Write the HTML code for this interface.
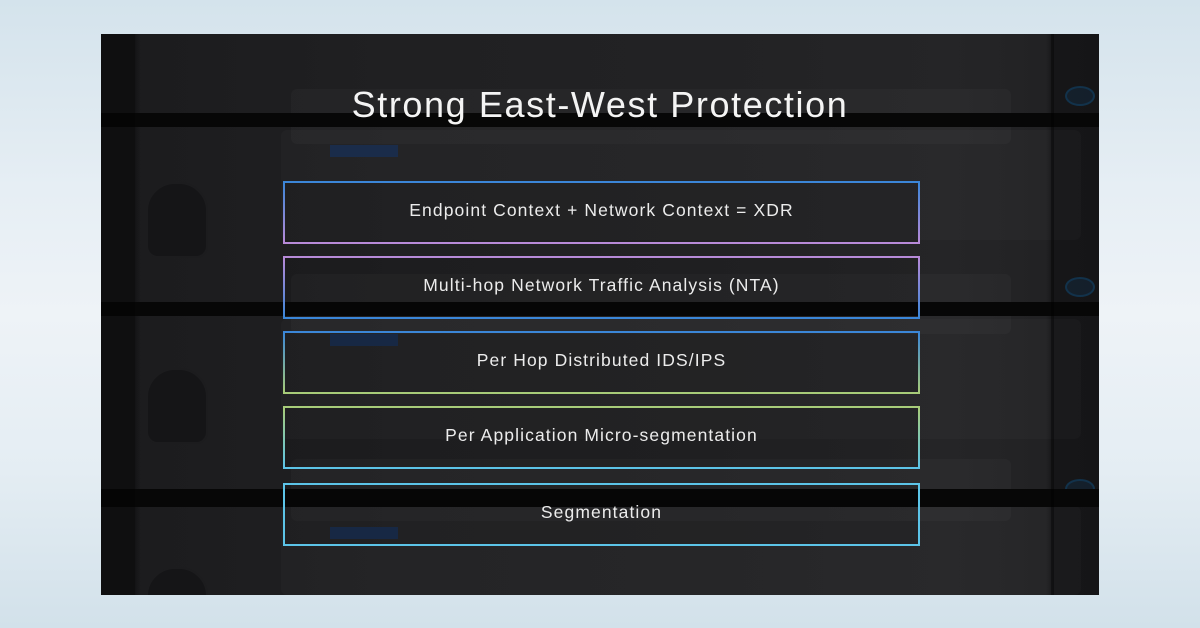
<!DOCTYPE html>
<html>
<head>
<meta charset="utf-8">
<style>
  html,body{margin:0;padding:0;}
  body{width:1200px;height:628px;overflow:hidden;position:relative;
    background:linear-gradient(to bottom,#d4e3ec 0%,#e6eef4 30%,#eef3f7 50%,#e4edf3 75%,#d2e1ea 100%);
    font-family:"Liberation Sans",sans-serif;}
  .panel{position:absolute;left:101px;top:34px;width:998px;height:561px;overflow:hidden;
    background:linear-gradient(to right,#141416 0px,#141416 34px,#1c1c1e 40px,#202022 300px,#222224 600px,#252527 850px,#222224 945px,#161618 952px,#151517 998px);}
  .band{position:absolute;left:0;width:998px;background:#070707;}
  .bezel{position:absolute;background:rgba(255,255,255,0.025);border-radius:6px;}
  .pe{position:absolute;width:68px;height:12px;background:#17305a;opacity:.7;}
  .knob{position:absolute;width:58px;height:72px;border-radius:29px 29px 12px 12px;background:#151517;border:2px solid #1c1c1e;}
  .logo{position:absolute;width:26px;height:16px;border-radius:50%;border:2px solid #123a58;background:rgba(20,60,95,0.35);opacity:.8;}
  .title{position:absolute;left:0;width:1200px;top:87px;text-align:center;color:#f4f4f4;
    font-size:36px;line-height:36px;letter-spacing:1.6px;white-space:nowrap;}
  .box{position:absolute;left:283px;width:633px;height:59px;border:2px solid;background:rgba(0,0,0,0.08);
    display:flex;align-items:center;justify-content:center;box-sizing:content-box;}
  .box span{color:#ececec;font-size:17.5px;letter-spacing:1.1px;white-space:nowrap;position:relative;top:-2px;}
  .b1{top:181px;border-image:linear-gradient(to bottom,#3a86d8,#b88ad8) 1;}
  .b2{top:256px;border-image:linear-gradient(to bottom,#b88ad8,#3a86d8) 1;}
  .b3{top:331px;border-image:linear-gradient(to bottom,#3a86d8,#a8cc78) 1;}
  .b4{top:406px;border-image:linear-gradient(to bottom,#a8cc78,#5cc4e8) 1;}
  .b5{top:483px;border-image:linear-gradient(to bottom,#5cc4e8,#5cc4e8) 1;}
</style>
</head>
<body>
<div class="panel">
  <!-- rack bezels -->
  <div class="bezel" style="left:190px;top:55px;width:720px;height:55px;"></div>
  <div class="bezel" style="left:180px;top:96px;width:800px;height:110px;background:rgba(255,255,255,0.02)"></div>
  <div class="bezel" style="left:190px;top:240px;width:720px;height:60px;"></div>
  <div class="bezel" style="left:180px;top:285px;width:800px;height:120px;background:rgba(255,255,255,0.02)"></div>
  <div class="bezel" style="left:190px;top:425px;width:720px;height:62px;"></div>
  <div class="bezel" style="left:180px;top:472px;width:800px;height:89px;background:rgba(255,255,255,0.02)"></div>
  <!-- knobs -->
  <div class="knob" style="left:45px;top:148px;"></div>
  <div class="knob" style="left:45px;top:334px;"></div>
  <div class="knob" style="left:45px;top:533px;"></div>
  <!-- powerEdge labels -->
  <div class="pe" style="left:229px;top:111px;"></div>
  <div class="pe" style="left:229px;top:300px;"></div>
  <div class="pe" style="left:229px;top:493px;"></div>
  <!-- logos -->
  <div class="logo" style="left:964px;top:52px;"></div>
  <div class="logo" style="left:964px;top:243px;"></div>
  <div class="logo" style="left:964px;top:445px;"></div>
  <!-- black bands -->
  <div class="band" style="top:79px;height:14px;"></div>
  <div class="band" style="top:268px;height:14px;"></div>
  <div class="band" style="top:455px;height:18px;"></div>
  <!-- vertical strips -->
  <div style="position:absolute;left:0;top:0;width:34px;height:561px;background:rgba(0,0,0,0.25);"></div>
  <div style="position:absolute;left:950px;top:0;width:3px;height:561px;background:rgba(0,0,0,0.35);"></div>
</div>

<div class="title">Strong East-West Protection</div>

<div class="box b1"><span>Endpoint Context + Network Context = XDR</span></div>
<div class="box b2"><span>Multi-hop Network Traffic Analysis (NTA)</span></div>
<div class="box b3"><span>Per Hop Distributed IDS/IPS</span></div>
<div class="box b4"><span>Per Application Micro-segmentation</span></div>
<div class="box b5"><span>Segmentation</span></div>
</body>
</html>
